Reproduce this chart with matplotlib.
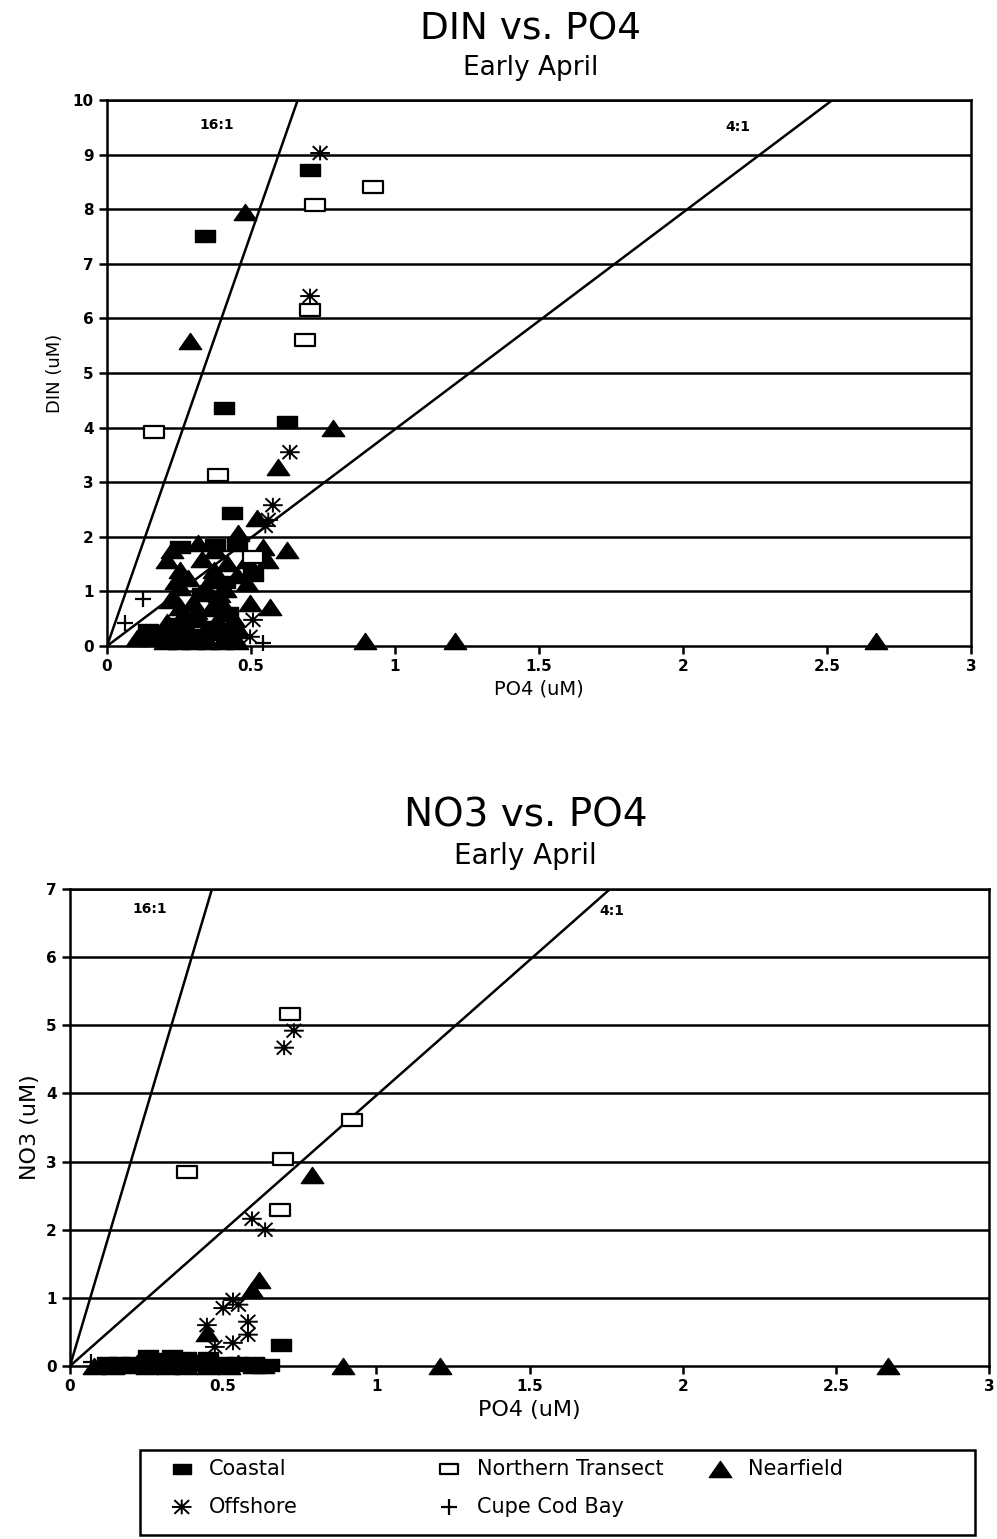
import numpy as np
import matplotlib
matplotlib.use('Agg')
import matplotlib.pyplot as plt
from matplotlib.path import Path
from matplotlib.patches import Rectangle

plt.rcParams['font.family'] = ['DejaVu Sans']

# -------------------------------
# Data: DIN vs PO4 (top panel)
# -------------------------------
din_coastal_x = [0.705, 0.34, 0.406, 0.625, 0.434, 0.253, 0.375, 0.45, 0.507, 0.41, 0.142, 0.15, 0.30, 0.36,
                 0.33, 0.42, 0.25]
din_coastal_y = [8.72, 7.51, 4.36, 4.10, 2.44, 1.82, 1.85, 1.87, 1.30, 1.17, 0.29, 0.12, 0.20, 0.35,
                 0.95, 0.60, 0.40]

din_north_x = [0.924, 0.722, 0.705, 0.688, 0.163, 0.385, 0.507]
din_north_y = [8.41, 8.08, 6.15, 5.60, 3.92, 3.13, 1.63]

din_off_x = [0.74, 0.705, 0.635, 0.576, 0.56, 0.507, 0.497, 0.55]
din_off_y = [9.03, 6.41, 3.55, 2.58, 2.31, 0.48, 0.17, 2.20]

din_near_x = [0.479, 0.288, 0.785, 0.594, 0.896, 1.208, 2.67, 0.52, 0.455,
              0.226, 0.316, 0.375, 0.451, 0.542, 0.625, 0.208, 0.417, 0.486, 0.556,
              0.253, 0.358, 0.486, 0.253, 0.323, 0.497, 0.566, 0.253, 0.392, 0.219,
              0.313, 0.417, 0.104, 0.20, 0.25, 0.30, 0.35, 0.40, 0.45, 0.22, 0.28,
              0.34, 0.40, 0.26, 0.32, 0.38, 0.44,
              0.19, 0.24, 0.29, 0.33, 0.37, 0.42, 0.46, 0.21, 0.27, 0.31, 0.36, 0.43,
              0.23, 0.30, 0.35, 0.41, 0.28, 0.37, 0.24, 0.33, 0.45, 0.39]
din_near_y = [7.95, 5.59, 3.99, 3.28, 0.09, 0.09, 0.09, 2.34, 2.07,
              1.76, 1.89, 1.76, 1.89, 1.81, 1.76, 1.58, 1.52, 1.58, 1.58,
              1.39, 1.21, 1.15, 1.08, 0.97, 0.79, 0.71, 0.71, 0.84, 0.84,
              0.53, 0.60, 0.15, 0.10, 0.10, 0.10, 0.10, 0.10, 0.10, 0.35, 0.30,
              0.30, 0.35, 0.55, 0.50, 0.45, 0.50,
              0.25, 0.20, 0.25, 0.20, 0.25, 0.20, 0.30, 0.45, 0.40, 0.65, 0.70, 0.40,
              0.90, 0.80, 1.00, 1.05, 1.25, 1.40, 1.20, 1.60, 1.30, 0.95]

din_cape_x = [0.125, 0.063, 0.542]
din_cape_y = [0.86, 0.42, 0.05]

# -------------------------------
# Data: NO3 vs PO4 (bottom panel)
# -------------------------------
no3_coastal_x = [0.69, 0.255, 0.333, 0.38, 0.45, 0.12, 0.20, 0.30, 0.40, 0.50, 0.60, 0.65,
                 0.28, 0.36, 0.42, 0.55, 0.16]
no3_coastal_y = [0.31, 0.15, 0.15, 0.12, 0.12, 0.05, 0.05, 0.05, 0.05, 0.05, 0.05, 0.02,
                 0.10, 0.10, 0.08, 0.04, 0.04]

no3_north_x = [0.718, 0.921, 0.695, 0.382, 0.686]
no3_north_y = [5.17, 3.61, 3.04, 2.85, 2.29]

no3_off_x = [0.731, 0.699, 0.594, 0.637, 0.532, 0.55, 0.50, 0.581, 0.581, 0.447, 0.532, 0.473]
no3_off_y = [4.92, 4.67, 2.16, 2.00, 0.97, 0.90, 0.85, 0.65, 0.46, 0.60, 0.34, 0.28]

no3_near_x = [0.79, 0.617, 0.594, 0.447, 0.89, 1.208, 2.67, 0.08,
              0.10, 0.18, 0.22, 0.28, 0.35, 0.42, 0.48, 0.55, 0.60, 0.63,
              0.14, 0.25, 0.32, 0.38, 0.45, 0.52]
no3_near_y = [2.80, 1.26, 1.12, 0.48, 0.0, 0.0, 0.0, 0.0,
              0.02, 0.02, 0.05, 0.05, 0.05, 0.05, 0.02, 0.05, 0.02, 0.02,
              0.0, 0.0, 0.0, 0.0, 0.0, 0.0]

no3_cape_x = [0.07]
no3_cape_y = [0.06]

ratio_slopes = [15.1, 3.97]
ratio_labels = ['16:1', '4:1']

# -------------------------------
# Marker shapes
# -------------------------------
rect_marker = Path([(-1, -0.6), (1, -0.6), (1, 0.6), (-1, 0.6), (-1, -0.6)],
                   [Path.MOVETO, Path.LINETO, Path.LINETO, Path.LINETO, Path.CLOSEPOLY])
tri_marker = Path([(0, 0.72), (-1, -0.72), (1, -0.72), (0, 0.72)],
                  [Path.MOVETO, Path.LINETO, Path.LINETO, Path.CLOSEPOLY])
ast_marker = Path([(-1, 0), (1, 0), (0, -0.75), (0, 0.75),
                   (-0.75, -0.7), (0.75, 0.7), (-0.75, 0.7), (0.75, -0.7)],
                  [Path.MOVETO, Path.LINETO] * 4)

styles = {
    'coastal': dict(marker=rect_marker, s=200, facecolors='black', edgecolors='black', linewidths=1),
    'north': dict(marker=rect_marker, s=200, facecolors='white', edgecolors='black', linewidths=1.6),
    'near': dict(marker=tri_marker, s=260, facecolors='black', edgecolors='black', linewidths=1),
    'off': dict(marker=ast_marker, s=200, facecolors='none', edgecolors='black', linewidths=1.4),
    'cape': dict(marker='+', s=130, c='black', linewidths=1.6),
}


def style_axes(ax, ymax):
    ax.set_xlim(0, 3)
    ax.set_ylim(0, ymax)
    ax.set_xticks(np.arange(0, 3.01, 0.5))
    ax.set_xticklabels(['0', '0.5', '1', '1.5', '2', '2.5', '3'])
    ax.set_yticks(range(0, ymax + 1))
    for y in range(1, ymax + 1):
        ax.axhline(y, color='black', lw=1.8, zorder=1)
    for sp in ax.spines.values():
        sp.set_linewidth(1.8)
    ax.tick_params(direction='out', length=6, width=1.8, labelsize=11)
    for lab in ax.get_xticklabels() + ax.get_yticklabels():
        lab.set_fontweight('bold')


def draw_panel(ax, data, ymax, label_pos):
    for key, (xs, ys) in data.items():
        ax.scatter(xs, ys, zorder=3, clip_on=False, **styles[key])
    xx = np.linspace(0, 3, 200)
    for slope in ratio_slopes:
        ax.plot(xx, slope * xx, color='black', lw=1.8, zorder=2)
    for (tx, ty), lab in zip(label_pos, ratio_labels):
        ax.text(tx, ty, lab, fontsize=10, fontweight='bold', ha='center', va='center')
    style_axes(ax, ymax)


fig = plt.figure(figsize=(9.97, 15.39), dpi=100)

# -------------------------------
# Top panel
# -------------------------------
ax1 = fig.add_axes([0.1073, 0.5802, 0.8666, 0.3548])
draw_panel(ax1, {'near': (din_near_x, din_near_y), 'coastal': (din_coastal_x, din_coastal_y),
                 'north': (din_north_x, din_north_y), 'off': (din_off_x, din_off_y),
                 'cape': (din_cape_x, din_cape_y)},
           10, [(0.38, 9.55), (2.19, 9.5)])
ax1.set_xlabel('PO4 (uM)', fontsize=14, labelpad=4)
ax1.set_ylabel('DIN (uM)', fontsize=13, labelpad=6)
fig.text(0.532, 0.981, 'DIN vs. PO4', fontsize=27, ha='center', va='center')
fig.text(0.532, 0.956, 'Early April', fontsize=19, ha='center', va='center')

# -------------------------------
# Bottom panel
# -------------------------------
ax2 = fig.add_axes([0.0702, 0.1124, 0.9218, 0.31])
draw_panel(ax2, {'near': (no3_near_x, no3_near_y), 'coastal': (no3_coastal_x, no3_coastal_y),
                 'north': (no3_north_x, no3_north_y), 'off': (no3_off_x, no3_off_y),
                 'cape': (no3_cape_x, no3_cape_y)},
           7, [(0.26, 6.7), (1.77, 6.67)])
ax2.set_xlabel('PO4 (uM)', fontsize=16, labelpad=4)
ax2.set_ylabel('NO3 (uM)', fontsize=16, labelpad=4)
fig.text(0.527, 0.470, 'NO3 vs. PO4', fontsize=28, ha='center', va='center')
fig.text(0.527, 0.444, 'Early April', fontsize=20, ha='center', va='center')

# -------------------------------
# Legend box
# -------------------------------
lax = fig.add_axes([0.1404, 0.0026, 0.8376, 0.0552])
lax.set_xlim(0, 1)
lax.set_ylim(0, 1)
lax.axis('off')
lax.add_patch(Rectangle((0, 0), 1, 1, fill=False, lw=1.8, transform=lax.transAxes, clip_on=False))
legend_items = [('coastal', 'Coastal', 0.05, 0.78), ('north', 'Northern Transect', 0.37, 0.78),
                ('near', 'Nearfield', 0.695, 0.78), ('off', 'Offshore', 0.05, 0.33),
                ('cape', 'Cupe Cod Bay', 0.37, 0.33)]
for key, lab, lx, ly in legend_items:
    st = dict(styles[key])
    if key in ('coastal', 'north'):
        st['s'] = 150
    lax.scatter([lx], [ly], zorder=3, **st)
    lax.text(lx + 0.033, ly, lab, fontsize=15, va='center', ha='left')

fig.savefig('out.png', dpi=100)
